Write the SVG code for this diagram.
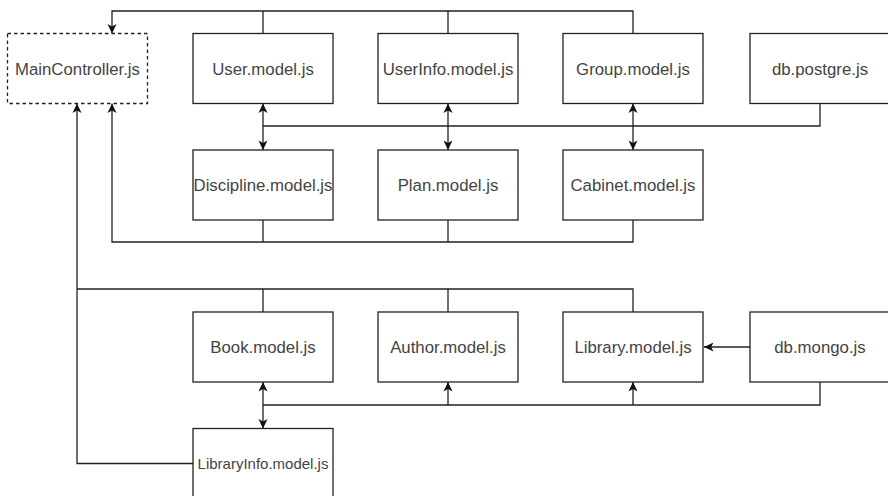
<svg xmlns="http://www.w3.org/2000/svg" width="888" height="496" viewBox="0 0 888 496">
<defs>
<style>
.box{fill:#fff;stroke:#222;stroke-width:1.3}
.dash{stroke-dasharray:3.5 3}
.t{font-family:"Liberation Sans",Arial,Helvetica,sans-serif;font-size:16.8px;fill:#444;text-anchor:middle}
.s{font-size:15px}
.c{fill:none;stroke:#222;stroke-width:1.3}
.a{marker-end:url(#arr)}
</style>
<marker id="arr" markerUnits="userSpaceOnUse" markerWidth="12" markerHeight="10" refX="9.5" refY="4.5" orient="auto" overflow="visible">
<path d="M0,0 L9.5,4.5 L0,9 L2.4,4.5 Z" fill="#111"/>
</marker>
</defs>
<rect width="888" height="496" fill="#fff"/>
<g id="connectors">
<path class="c a" d="M633,33.5 V11 H112 V33.5"/>
<path class="c" d="M448,33.5 V11 M263,33.5 V11"/>
<path class="c" d="M820,103.5 V126 H263"/>
<path class="c a" d="M263,126 V103.5"/>
<path class="c a" d="M263,126 V150"/>
<path class="c a" d="M448,126 V103.5"/>
<path class="c a" d="M448,126 V150"/>
<path class="c a" d="M633,126 V103.5"/>
<path class="c a" d="M633,126 V150"/>
<path class="c a" d="M633,220 V242 H112 V103.5"/>
<path class="c" d="M448,220 V242 M263,220 V242"/>
<path class="c" d="M633,312 V289 H77"/>
<path class="c" d="M448,312 V289 M263,312 V289"/>
<path class="c a" d="M193,463.5 H77 V103.5"/>
<path class="c a" d="M750,347 H704"/>
<path class="c" d="M820,382 V405 H263"/>
<path class="c a" d="M263,405 V382"/>
<path class="c a" d="M263,405 V428.5"/>
<path class="c a" d="M448,405 V382"/>
<path class="c a" d="M633,405 V382"/>
</g>
<g id="MainController"><rect class="box dash" x="7.5" y="33.5" width="140" height="70"/><text class="t" x="77.5" y="74.5">MainController.js</text></g>
<g id="User"><rect class="box" x="193" y="33.5" width="140" height="70"/><text class="t" x="263" y="74.5">User.model.js</text></g>
<g id="UserInfo"><rect class="box" x="378" y="33.5" width="140" height="70"/><text class="t" x="448" y="74.5">UserInfo.model.js</text></g>
<g id="Group"><rect class="box" x="563" y="33.5" width="140" height="70"/><text class="t" x="633" y="74.5">Group.model.js</text></g>
<g id="dbPostgre"><rect class="box" x="750" y="33.5" width="140" height="70"/><text class="t" x="820" y="74.5">db.postgre.js</text></g>
<g id="Discipline"><rect class="box" x="193" y="150" width="140" height="70"/><text class="t" x="263" y="191">Discipline.model.js</text></g>
<g id="Plan"><rect class="box" x="378" y="150" width="140" height="70"/><text class="t" x="448" y="191">Plan.model.js</text></g>
<g id="Cabinet"><rect class="box" x="563" y="150" width="140" height="70"/><text class="t" x="633" y="191">Cabinet.model.js</text></g>
<g id="Book"><rect class="box" x="193" y="312" width="140" height="70"/><text class="t" x="263" y="353">Book.model.js</text></g>
<g id="Author"><rect class="box" x="378" y="312" width="140" height="70"/><text class="t" x="448" y="353">Author.model.js</text></g>
<g id="Library"><rect class="box" x="563" y="312" width="140" height="70"/><text class="t" x="633" y="353">Library.model.js</text></g>
<g id="dbMongo"><rect class="box" x="750" y="312" width="140" height="70"/><text class="t" x="820" y="353">db.mongo.js</text></g>
<g id="LibraryInfo"><rect class="box" x="193" y="428.5" width="140" height="70"/><text class="t s" x="263" y="469">LibraryInfo.model.js</text></g>
</svg>
